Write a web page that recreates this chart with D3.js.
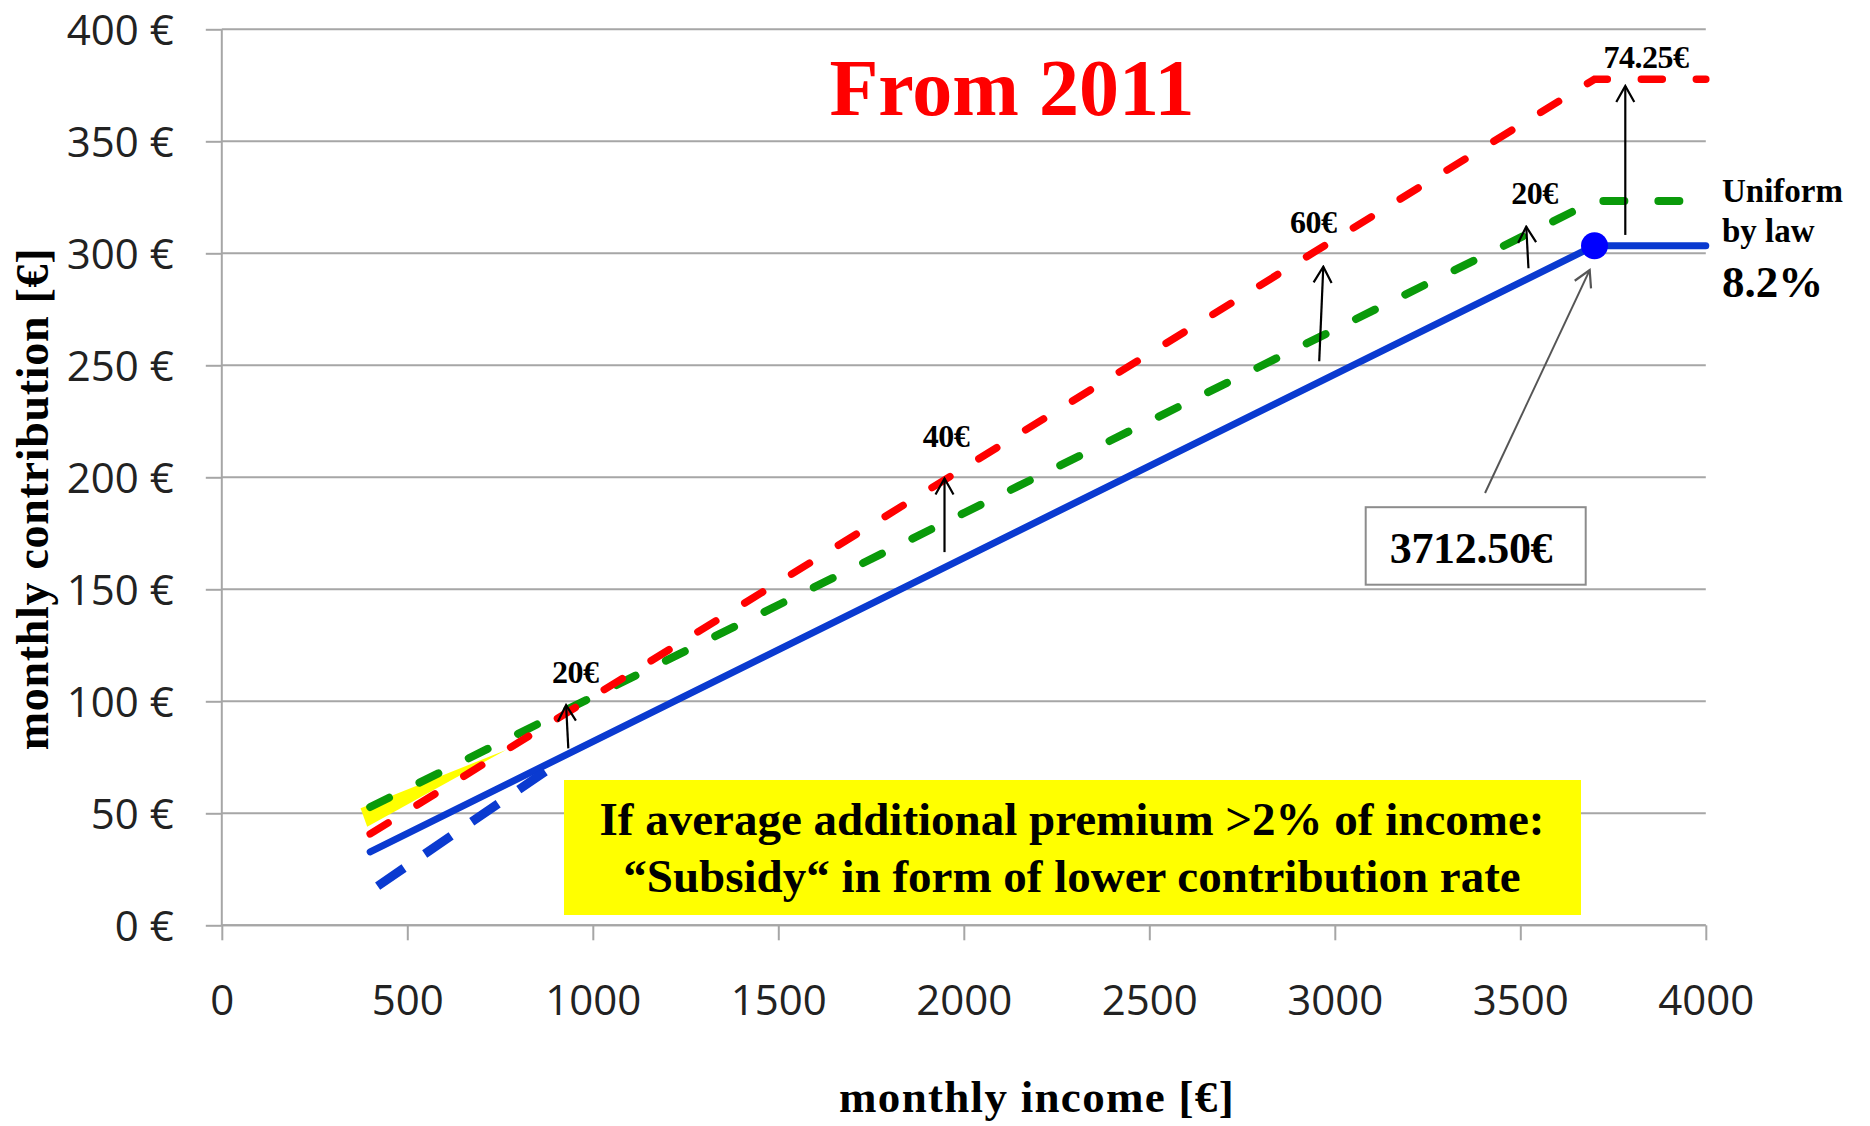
<!DOCTYPE html>
<html><head><meta charset="utf-8">
<script src="https://cdn.jsdelivr.net/npm/d3@7"></script>
<style>body{margin:0;background:#fff} svg{display:block}</style>
</head><body>
<script>
// ---- data ----
const xTicks = [0, 500, 1000, 1500, 2000, 2500, 3000, 3500, 4000];
const yTicks = [0, 50, 100, 150, 200, 250, 300, 350, 400];

// solid blue: uniform contribution rate 8.2% up to the ceiling
const blueIncome = [400, 3700, 4000];
const blueValues = [32.8, 303.4, 303.4];
// dashed blue: lower contribution rate (subsidy)
const blueDashIncome = [420, 875];
const blueDashValues = [17.5, 69];
// dashed green: 8.2% + 20€ additional premium
const greenIncome = [400, 3700, 4000];
const greenValues = [52.8, 323.4, 323.4];
// dashed red: 8.2% + 2% of income
const redIncome = [400, 3700, 4000];
const redValues = [40.8, 377.7, 377.7];
// yellow wedge between green and red
const yellowIncome = [374, 392, 766];
const yellowValues = [52.2, 44, 78.3];
// ceiling point
const ceilingIncome = [3700];
const ceilingValue = [303.4];

// arrows: income, from-value, to-value
const arrowLabels = ["20€", "40€", "60€", "20€", "74.25€"];
const arrowX1 = [934, 1948, 2958, 3522, 3783];
const arrowX2 = [928, 1948, 2969, 3516, 3783];
const arrowFrom = [79, 166.6, 251.8, 293.3, 308.2];
const arrowTo = [98.3, 199.5, 294, 311.9, 374.7];
const labelIncome = [953, 1952, 2942, 3538, 3839];
const labelValue = [108.2, 213.7, 309, 322, 382.7];

// ---- layout ----
const W = 1870, H = 1126;
const svg = d3.select("body").append("svg").attr("width", W).attr("height", H);
const x = d3.scaleLinear().domain([0, 4000]).range([221.8, 1705.8]);
const y = d3.scaleLinear().domain([0, 400]).range([925.3, 29.3]);

const gridColor = "#a6a6a6";
const serif = "'Liberation Serif','Times New Roman',serif";
const sans = "'Open Sans','Noto Sans',sans-serif";

// gridlines
svg.append("g").selectAll("line").data(yTicks).join("line")
  .attr("x1", x(0)).attr("x2", x(4000))
  .attr("y1", d => y(d)).attr("y2", d => y(d))
  .attr("stroke", gridColor).attr("stroke-width", 2);

// y axis
const ya = svg.append("g").attr("transform", `translate(${x(0)},0)`)
  .call(d3.axisLeft(y).tickValues(yTicks).tickSize(16).tickPadding(32).tickFormat(d => d + " €"));
ya.select(".domain").attr("stroke", gridColor).attr("stroke-width", 2).attr("d", `M0,${y(400)}V${y(0)}`);
ya.selectAll(".tick line").attr("stroke", gridColor).attr("stroke-width", 2);
ya.selectAll(".tick text").attr("font-family", sans).attr("font-size", 42).attr("fill", "#222").attr("dy", "0.36em");

// x axis
const xa = svg.append("g").attr("transform", `translate(0,${y(0)})`)
  .call(d3.axisBottom(x).tickValues(xTicks).tickSize(15).tickFormat(d => d));
xa.select(".domain").attr("stroke", gridColor).attr("stroke-width", 2).attr("d", `M${x(0)},0H${x(4000)}`);
xa.selectAll(".tick line").attr("stroke", gridColor).attr("stroke-width", 2);
xa.selectAll(".tick text").attr("font-family", sans).attr("font-size", 42).attr("fill", "#222")
  .attr("y", 89.7).attr("dy", null);

// axis titles
svg.append("text").attr("transform", `translate(${x(0) - 174},${(248 + 750) / 2}) rotate(-90)`)
  .attr("text-anchor", "middle").attr("font-family", serif).attr("font-weight", "bold")
  .attr("font-size", 46).attr("letter-spacing", 0.7).text("monthly contribution [€]");
svg.append("text").attr("x", 1037).attr("y", 1112)
  .attr("text-anchor", "middle").attr("font-family", serif).attr("font-weight", "bold")
  .attr("font-size", 45).attr("letter-spacing", 1.3).text("monthly income [€]");

// title
svg.append("text").attr("x", 1012).attr("y", 115).attr("text-anchor", "middle")
  .attr("font-family", serif).attr("font-weight", "bold").attr("font-size", 80)
  .attr("fill", "#ff0000").text("From 2011");

// series
const line = d3.line().x(d => x(d[0])).y(d => y(d[1]));
const zip = (a, b) => a.map((v, i) => [v, b[i]]);

svg.append("path").datum(zip(yellowIncome, yellowValues))
  .attr("d", d => line(d) + "Z").attr("fill", "#ffff00");

svg.append("path").datum(zip(greenIncome, greenValues)).attr("d", line)
  .attr("fill", "none").attr("stroke", "#0a9a0a").attr("stroke-width", 8)
  .attr("stroke-dasharray", "21,34").attr("stroke-linecap", "round");

svg.append("path").datum(zip(redIncome, redValues)).attr("d", line)
  .attr("fill", "none").attr("stroke", "#ff0000").attr("stroke-width", 7.5)
  .attr("stroke-dasharray", "21,34").attr("stroke-linecap", "round");

svg.append("path").datum(zip(blueIncome, blueValues)).attr("d", line)
  .attr("fill", "none").attr("stroke", "#0a3ad0").attr("stroke-width", 7)
  .attr("stroke-linecap", "round");

svg.append("path").datum(zip(blueDashIncome, blueDashValues)).attr("d", line)
  .attr("fill", "none").attr("stroke", "#0a3ad0").attr("stroke-width", 9)
  .attr("stroke-dasharray", "32,25");

svg.append("g").selectAll("circle").data(zip(ceilingIncome, ceilingValue)).join("circle")
  .attr("cx", d => x(d[0])).attr("cy", d => y(d[1])).attr("r", 13.5).attr("fill", "#0000ff");

// arrow markers
const defs = svg.append("defs");
function marker(id, color) {
  defs.append("marker").attr("id", id).attr("markerUnits", "userSpaceOnUse")
    .attr("viewBox", "-18 -11 20 22").attr("refX", 0).attr("refY", 0)
    .attr("markerWidth", 20).attr("markerHeight", 22).attr("orient", "auto")
    .append("path").attr("d", "M-16,-9L0,0L-16,9").attr("fill", "none")
    .attr("stroke", color).attr("stroke-width", 2.2);
}
marker("ah", "#000");
marker("ahg", "#555");

svg.append("g").selectAll("line").data(arrowLabels).join("line")
  .attr("x1", (d, i) => x(arrowX1[i])).attr("x2", (d, i) => x(arrowX2[i]))
  .attr("y1", (d, i) => y(arrowFrom[i])).attr("y2", (d, i) => y(arrowTo[i]))
  .attr("stroke", "#000").attr("stroke-width", 2.2).attr("marker-end", "url(#ah)");

svg.append("g").selectAll("text").data(arrowLabels).join("text")
  .attr("x", (d, i) => x(labelIncome[i])).attr("y", (d, i) => y(labelValue[i]))
  .attr("text-anchor", "middle").attr("font-family", serif).attr("font-weight", "bold")
  .attr("font-size", 32).attr("letter-spacing", -0.5).text(d => d);

// grey arrow from box to ceiling point
svg.append("line").attr("x1", x(3405)).attr("y1", y(193)).attr("x2", x(3687)).attr("y2", y(292.5))
  .attr("stroke", "#555").attr("stroke-width", 2).attr("marker-end", "url(#ahg)");

// ceiling box
svg.append("rect").attr("x", 1365.7).attr("y", 507.2).attr("width", 220).attr("height", 77.5)
  .attr("fill", "#fff").attr("stroke", "#8c8c8c").attr("stroke-width", 2);
svg.append("text").attr("x", 1471).attr("y", 563).attr("text-anchor", "middle")
  .attr("font-family", serif).attr("font-weight", "bold").attr("font-size", 44)
  .attr("letter-spacing", -0.3).text("3712.50€");

// right-side labels
const rl = svg.append("text").attr("font-family", serif).attr("font-weight", "bold");
rl.append("tspan").attr("x", 1722).attr("y", 202).attr("font-size", 33).text("Uniform");
rl.append("tspan").attr("x", 1722).attr("y", 242).attr("font-size", 33).text("by law");
rl.append("tspan").attr("x", 1722).attr("y", 297).attr("font-size", 45).text("8.2%");

// yellow note
svg.append("rect").attr("x", 564).attr("y", 780).attr("width", 1017).attr("height", 135).attr("fill", "#ffff00");
svg.append("text").attr("x", 1072).attr("y", 835).attr("text-anchor", "middle")
  .attr("font-family", serif).attr("font-weight", "bold").attr("font-size", 47)
  .text("If average additional premium >2% of income:");
svg.append("text").attr("x", 1072).attr("y", 892).attr("text-anchor", "middle")
  .attr("font-family", serif).attr("font-weight", "bold").attr("font-size", 47)
  .text("“Subsidy“ in form of lower contribution rate");
</script>
</body></html>
